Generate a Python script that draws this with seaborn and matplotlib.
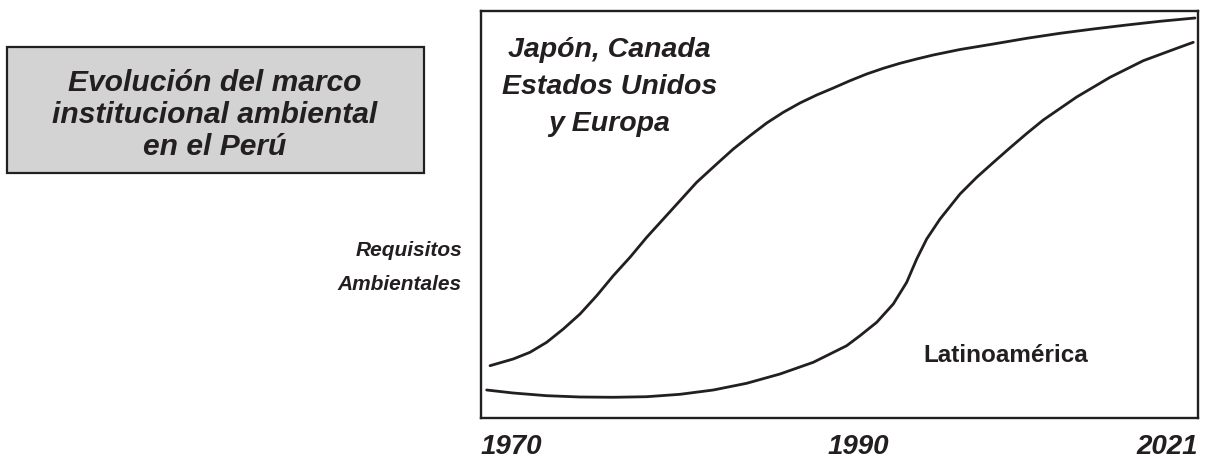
import numpy as np
import pandas as pd
import matplotlib.pyplot as plt
import seaborn as sns
from matplotlib.patches import Rectangle

# -----------------------------
# DATA (x and y on a 0-100 scale)
# -----------------------------

x_japon = [1.26, 4.50, 6.83, 9.16, 11.48, 13.81, 16.14, 18.45, 20.78, 23.11,
           25.43, 27.75, 30.08, 32.87, 35.19, 37.52, 39.85, 42.16, 44.49, 46.82,
           49.14, 51.46, 53.79, 56.11, 58.44, 60.77, 63.08, 66.81, 71.45, 76.11,
           80.75, 85.40, 90.06, 94.70, 99.58]
y_japon = [12.85, 14.50, 16.14, 18.60, 21.87, 25.55, 30.05, 34.96, 39.48, 44.40,
           48.89, 53.39, 57.91, 62.41, 66.09, 69.36, 72.48, 75.11, 77.40, 79.36,
           81.08, 82.87, 84.52, 85.92, 87.15, 88.21, 89.19, 90.54, 91.89, 93.29,
           94.52, 95.58, 96.56, 97.47, 98.28]

x_latam = [0.79, 4.50, 9.16, 13.81, 18.45, 23.11, 27.75, 32.40, 37.06, 41.70,
           46.35, 51.00, 52.86, 55.19, 57.50, 59.37, 60.77, 62.16, 64.02, 66.81,
           69.14, 71.45, 73.78, 76.11, 78.42, 83.08, 87.73, 92.37, 97.03, 99.34]
y_latam = [6.88, 6.14, 5.48, 5.16, 5.09, 5.23, 5.82, 6.88, 8.53, 10.81,
           13.69, 17.76, 20.22, 23.51, 28.01, 33.34, 39.07, 43.98, 48.89, 55.04,
           59.14, 62.78, 66.39, 69.90, 73.22, 78.87, 83.71, 87.79, 90.83, 92.31]

tick_pos = [0, 52.6, 100]
tick_labels = ["1970", "1990", "2021"]

titulo = "Evolución del marco\ninstitucional ambiental\nen el Perú"
etiqueta_japon = "Japón, Canada\nEstados Unidos\ny Europa"
etiqueta_latam = "Latinoamérica"
etiqueta_y = "Requisitos\nAmbientales"

df = pd.concat([
    pd.DataFrame({"x": x_japon, "y": y_japon, "grupo": "japon"}),
    pd.DataFrame({"x": x_latam, "y": y_latam, "grupo": "latam"}),
])

# -----------------------------
# PLOT
# -----------------------------

sns.set_style("white")
plt.rcParams['font.family'] = ['Liberation Sans', 'DejaVu Sans']
ink = "#231f20"

fig = plt.figure(figsize=(12.14, 4.6), dpi=100)
ax = fig.add_axes([481 / 1214, 41 / 460, 717 / 1214, 407 / 460])

sns.lineplot(data=df, x="x", y="y", units="grupo", estimator=None, sort=False,
             color=ink, linewidth=2.0, ax=ax)

ax.set_xlim(0, 100)
ax.set_ylim(0, 100)
ax.set_xlabel("")
ax.set_ylabel("")
ax.set_yticks([])
ax.set_xticks(tick_pos)
ax.set_xticklabels(tick_labels, fontsize=20, fontweight="bold", style="italic", color=ink)
for lbl, ha in zip(ax.get_xticklabels(), ["left", "center", "right"]):
    lbl.set_horizontalalignment(ha)
ax.tick_params(axis="x", length=0, pad=11)
for s in ax.spines.values():
    s.set_color(ink)
    s.set_linewidth(1.7)

ax.text(17.9, 81.5, etiqueta_japon, ha="center", va="center", fontsize=20.5,
        fontweight="bold", style="italic", color=ink, linespacing=1.54)
ax.text(73.2, 15.5, etiqueta_latam, ha="center", va="center", fontsize=17.5,
        fontweight="bold", color=ink)

fig.text(462 / 1214, 1 - 268 / 460, etiqueta_y, ha="right", va="center", fontsize=15,
         fontweight="bold", style="italic", color=ink, linespacing=2.0)

# title box
fig.patches.append(Rectangle((7 / 1214, 1 - 174 / 460), 417 / 1214, 126 / 460,
                             transform=fig.transFigure, facecolor="#d3d3d3",
                             edgecolor=ink, linewidth=1.6))
fig.text(215 / 1214, 1 - 115 / 460, titulo, ha="center", va="center", fontsize=21.6,
         fontweight="bold", style="italic", color=ink, linespacing=1.16)

plt.savefig("out.png", dpi=100)
plt.close()
